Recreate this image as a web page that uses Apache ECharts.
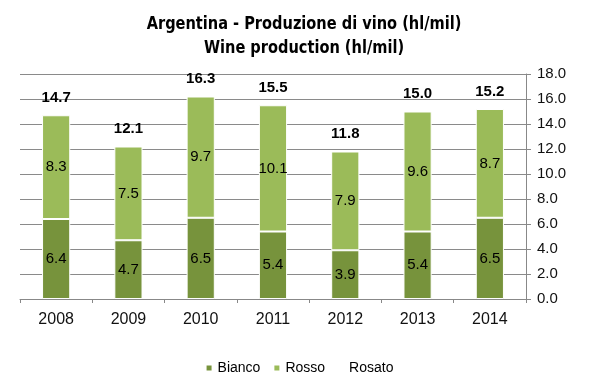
<!DOCTYPE html>
<html><head><meta charset="utf-8">
<script src="https://cdn.jsdelivr.net/npm/echarts@6/dist/echarts.min.js"></script>
<style>html,body{margin:0;padding:0;background:#fff}#c{width:598px;height:390px}</style>
</head><body><div id="c"></div>
<script>
const years = ['2008','2009','2010','2011','2012','2013','2014'];
const bianco = [6.4, 4.7, 6.5, 5.4, 3.9, 5.4, 6.5];
const rosso = [8.3, 7.5, 9.7, 10.1, 7.9, 9.6, 8.7];
const rosato = [0, 0, 0, 0, 0, 0, 0];
const totals = [14.7, 12.1, 16.3, 15.5, 11.8, 15.0, 15.2];
const yTicks = [0, 2, 4, 6, 8, 10, 12, 14, 16, 18];
const titleLines = ['Argentina - Produzione di vino (hl/mil)', 'Wine production (hl/mil)'];

const chart = echarts.init(document.getElementById('c'));
const font = 'Liberation Sans, Arial, sans-serif';
const titleFont = 'bold 18px "DejaVu Sans Condensed", "Liberation Sans", sans-serif';
chart.setOption({
  animation: false,
  graphic: titleLines.map((t, i) => ({
    type: 'text', x: 304, y: 24 + i * 24, scaleX: 0.9,
    style: { text: t, font: titleFont, fill: '#000', textAlign: 'center', textVerticalAlign: 'middle' }
  })),
  legend: {
    bottom: 10, left: 'center', itemWidth: 7, itemHeight: 7, itemGap: 12,
    textStyle: { fontFamily: font, fontSize: 14, color: '#000' },
    data: [{name:'Bianco', icon:'rect'}, {name:'Rosso', icon:'rect'}, {name:'Rosato', icon:'rect', itemStyle:{color:'rgba(255,255,255,0)'}}]
  },
  grid: { left: 20, right: 72, top: 74, bottom: 91 },
  xAxis: {
    type: 'category', data: years,
    axisLine: { lineStyle: { color: '#888' } },
    axisTick: { show: true, length: 4, alignWithLabel: false, lineStyle: { color: '#888' } },
    axisLabel: { fontFamily: font, fontSize: 16, color: '#111', margin: 13 }
  },
  yAxis: {
    type: 'value', position: 'right', min: yTicks[0], max: yTicks[yTicks.length-1], interval: 2,
    axisLine: { show: true, lineStyle: { color: '#888' } },
    axisTick: { show: true, inside: false, lineStyle: { color: '#888' } },
    splitLine: { lineStyle: { color: '#8a8a8a' } },
    axisLabel: { fontFamily: font, fontSize: 15, color: '#111', margin: 11, formatter: v => v.toFixed(1) }
  },
  series: [
    { name: 'Bianco', type: 'bar', stack: 's', data: bianco, barWidth: '39%',
      itemStyle: { color: '#77933C', borderColor: '#fff', borderWidth: 1 },
      label: { show: true, position: 'inside', fontFamily: font, fontSize: 15, color: '#000', formatter: p => p.value.toFixed(1) } },
    { name: 'Rosso', type: 'bar', stack: 's', data: rosso, barWidth: '39%',
      itemStyle: { color: '#9BBB59', borderColor: '#fff', borderWidth: 1 },
      label: { show: true, position: 'inside', fontFamily: font, fontSize: 15, color: '#000', formatter: p => p.value.toFixed(1) } },
    { name: 'Rosato', type: 'bar', stack: 's', data: rosato, barWidth: '39%',
      itemStyle: { color: 'rgba(255,255,255,0)' },
      label: { show: true, position: 'top', distance: 10, fontFamily: font, fontSize: 15, fontWeight: 'bold', color: '#000',
        formatter: p => totals[p.dataIndex].toFixed(1) } }
  ]
});
</script></body></html>
